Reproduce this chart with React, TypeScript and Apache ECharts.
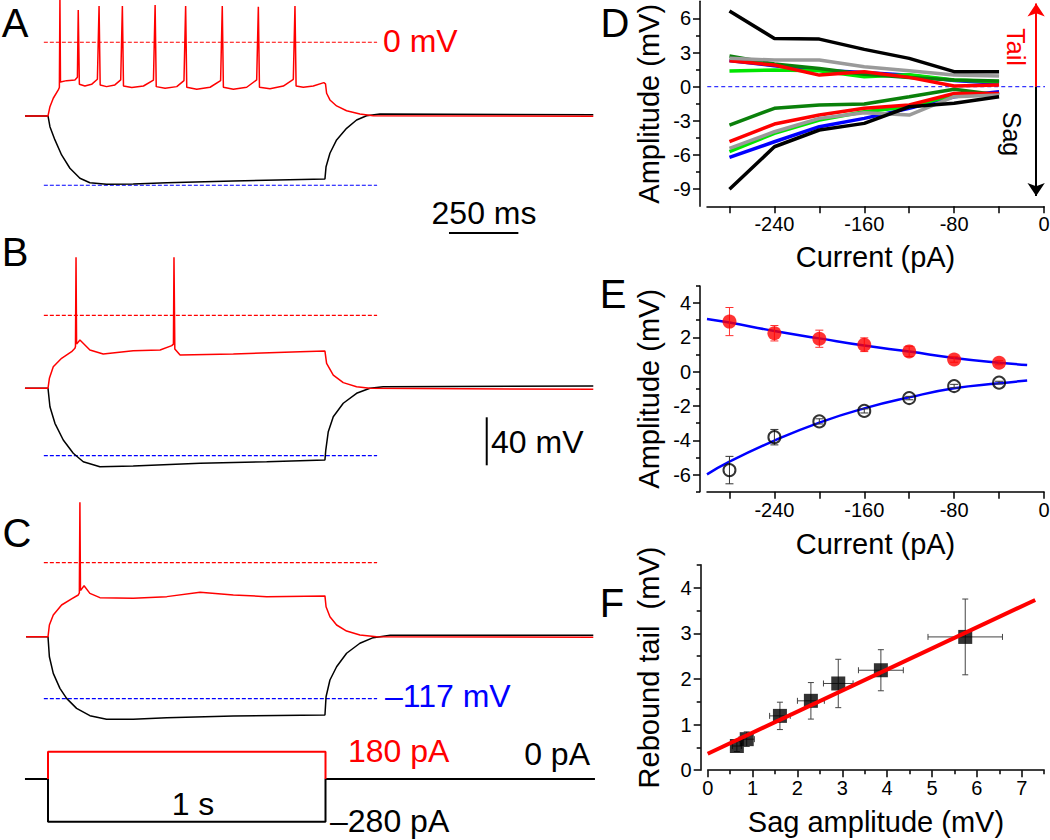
import React, { useEffect, useRef } from "react";
import * as echarts from "echarts";

const FONT = '"Liberation Sans", Arial, Helvetica, sans-serif';

// ---------- Panels A–C: membrane potential traces, [time (ms), Vm (mV)] ----------
const traceARed = [
  [-83, -60.3], [0, -60.3], [7, -52.7], [19, -45.8], [37, -39], [41, -37], [43, 36], [45, -32.5],
  [67, -31.4], [97, -30.8], [106, -28.6], [109, 26.4], [113, -34.4], [133, -35.8], [157, -34.4],
  [178, -30.3], [184, 29.7], [188, -34.9], [211, -36.3], [241, -34.9], [262, -30.8], [268, 29.7],
  [272, -35.8], [302, -37.1], [344, -35.8], [380, -31], [386, 30.5], [390, -36.3], [422, -37.6],
  [464, -36.3], [490, -31.4], [496, 29.7], [500, -36.8], [536, -38.5], [584, -36.8], [622, -31.4],
  [628, 29.7], [632, -36.8], [668, -38.5], [716, -36.8], [752, -30.8], [758, 29.1], [762, -36.8],
  [800, -38], [848, -35.8], [884, -30.3], [890, 29.7], [894, -35.8], [920, -36.8], [956, -35.8],
  [994, -33], [1000, -34], [1004, -41.7], [1016, -47.2], [1040, -52.1], [1076, -56], [1124, -58.7],
  [1172, -60.1], [1965, -60.5],
];
const traceABlack = [
  [-83, -60.3], [0, -60.3], [7, -69.1], [25, -79.9], [49, -92.2], [79, -103.1], [115, -111.3],
  [151, -114.9], [211, -116.2], [307, -115.9], [428, -114.9], [668, -113.5], [998, -111.8],
  [1002, -101.8], [1016, -90.8], [1040, -79.9], [1076, -70.4], [1112, -63.6], [1148, -60.1],
  [1196, -58.7], [1965, -59.3],
];
const traceBRed = [
  [-83, -60.8], [0, -60.8], [5, -52.5], [19, -42.8], [49, -35.8], [85, -30.3], [97, -27.5],
  [99, -26], [101, 48.3], [103, -24], [115, -20.6], [151, -28.9], [199, -32.3], [307, -29.5],
  [404, -28.9], [446, -25.3], [452, -24], [454, 48.3], [457, -28], [476, -33.1], [668, -32.3],
  [908, -30.3], [998, -29.8], [1004, -40], [1028, -49.8], [1064, -56.1], [1112, -59.5],
  [1160, -60.8], [1965, -61.7],
];
const traceBBlack = [
  [-83, -60.8], [0, -60.8], [7, -76.2], [25, -90], [55, -103.9], [91, -115], [127, -122],
  [187, -126.2], [307, -125.6], [548, -123.3], [788, -122], [998, -120.6], [1001, -112.3],
  [1010, -97], [1028, -84.5], [1064, -73.3], [1112, -65], [1160, -60.8], [1208, -59.5],
  [1965, -58.9],
];
const traceCRed = [
  [-79, -63.7], [0, -63.7], [5, -53.6], [19, -45], [49, -36.4], [85, -31.2], [109, -27.8],
  [113, -26], [115, 52], [117, -24], [130, -19.8], [151, -26.4], [187, -30.1], [307, -30.7],
  [428, -29.2], [548, -25.5], [668, -27.8], [788, -29.2], [998, -28.6], [1002, -37.9],
  [1016, -46.5], [1040, -53.6], [1076, -58.8], [1124, -62.2], [1184, -63.7], [1965, -64.2],
];
const traceCBlack = [
  [-79, -63.7], [0, -63.7], [5, -80.9], [19, -95.2], [43, -108.1], [67, -116.7], [103, -125.3],
  [151, -131.6], [211, -134.7], [307, -134.6], [428, -133.3], [668, -131.9], [998, -131],
  [1002, -115.3], [1016, -100.9], [1040, -89.5], [1076, -77.9], [1124, -69.3], [1172, -64.5],
  [1233, -62.5], [1965, -62.5],
];
const refLevels = [0, -117]; // mV: red dashed (0 mV), blue dashed (-117 mV)
const refSpan = [-15, 1186]; // ms
const scaleBarTime = [[1445, -156], [1695, -156]]; // 250 ms
const scaleBarVolt = [[1581, -85], [1581, -125]]; // 40 mV

// Current step (pA)
const stepRed = [[0, 0], [0, 180], [1000, 180], [1000, 0]];
const stepBlack = [[-83, 0], [0, 0], [0, -280], [1000, -280], [1000, 0], [1971, 0]];

// ---------- Panel D: individual cells ----------
const currents = [-280, -240, -200, -160, -120, -80, -40];
const dTailBlack = [6.64, 4.24, 4.18, 3.28, 2.49, 1.32, 1.32];
const dTailGray = [2.49, 2.34, 2.34, 1.76, 1.4, 1.02, 0.94];
const dTailDarkGreen = [2.69, 2.0, 1.6, 1.1, 0.8, 0.6, 0.5];
const dTailRed = [2.28, 1.9, 1.02, 1.32, 0.82, 0.06, 0.15];
const dTailBlue = [2.3, 1.85, 1.45, 1.25, 1.0, 0.55, 0.3];
const dTailLightGreen = [1.38, 1.46, 1.4, 0.88, 1.05, 0.59, 0.44];
const dSagBlack = [-9.01, -5.27, -3.8, -3.22, -1.76, -1.46, -0.88];
const dSagBlue = [-6.2, -4.83, -3.51, -2.78, -1.9, -0.88, -0.44];
const dSagLightGreen = [-5.7, -4.1, -2.93, -2.19, -1.76, -0.73, -0.64];
const dSagGray = [-5.41, -3.95, -2.78, -2.28, -2.49, -0.88, -0.73];
const dSagRed = [-4.83, -3.28, -2.49, -1.9, -1.61, -0.59, -0.59];
const dSagDarkGreen = [-3.37, -1.9, -1.61, -1.52, -0.88, -0.23, -0.73];
const dZeroLine = [[-306, 0], [6, 0]];
const arrowX = -7;
const arrowTailTop = 7.3;
const arrowSagBottom = -9.6;

// ---------- Panel E: mean ± SEM ----------
const tailMean = [2.92, 2.24, 1.92, 1.57, 1.18, 0.71, 0.52];
const tailSem = [0.82, 0.45, 0.5, 0.4, 0.3, 0.16, 0.12];
const sagMean = [-5.74, -3.82, -2.9, -2.29, -1.54, -0.84, -0.64];
const sagSem = [0.8, 0.45, 0.15, 0.12, 0.1, 0.1, 0.08];
const fitCurrents = [-300, -280, -240, -200, -160, -120, -80, -40, -15];
const tailFit = [3.07, 2.86, 2.37, 1.94, 1.52, 1.17, 0.8, 0.52, 0.39];
const sagFit = [-5.99, -5.25, -4.02, -2.97, -2.14, -1.5, -0.97, -0.68, -0.52];

// ---------- Panel F: rebound tail vs sag ----------
const fSagX = [0.65, 0.87, 1.61, 2.3, 2.91, 3.86, 5.74];
const fSagXErr = [0.1, 0.17, 0.23, 0.3, 0.33, 0.5, 0.83];
const fTailY = [0.53, 0.68, 1.19, 1.52, 1.9, 2.19, 2.92];
const fTailYErr = [0.12, 0.16, 0.3, 0.4, 0.53, 0.45, 0.83];
const fFitX = [0, 7.3];
const fFitY = [0.36, 3.73];

const pairs = (xs: number[], ys: number[]) => xs.map((x, i) => [x, ys[i]]);

function errY(color: string, cap: number) {
  return (params: any, api: any) => {
    const x = api.value(0), y = api.value(1), e = api.value(2);
    const lo = api.coord([x, y - e]);
    const hi = api.coord([x, y + e]);
    const st = { stroke: color, lineWidth: 1 };
    return {
      type: "group",
      children: [
        { type: "line", shape: { x1: lo[0], y1: lo[1], x2: hi[0], y2: hi[1] }, style: st },
        { type: "line", shape: { x1: lo[0] - cap, y1: lo[1], x2: lo[0] + cap, y2: lo[1] }, style: st },
        { type: "line", shape: { x1: hi[0] - cap, y1: hi[1], x2: hi[0] + cap, y2: hi[1] }, style: st },
      ],
    };
  };
}
function errXY(color: string, cap: number) {
  return (params: any, api: any) => {
    const x = api.value(0), y = api.value(1), ex = api.value(2), ey = api.value(3);
    const l = api.coord([x - ex, y]), r = api.coord([x + ex, y]);
    const b = api.coord([x, y - ey]), t = api.coord([x, y + ey]);
    const st = { stroke: color, lineWidth: 1 };
    return {
      type: "group",
      children: [
        { type: "line", shape: { x1: l[0], y1: l[1], x2: r[0], y2: r[1] }, style: st },
        { type: "line", shape: { x1: l[0], y1: l[1] - cap, x2: l[0], y2: l[1] + cap }, style: st },
        { type: "line", shape: { x1: r[0], y1: r[1] - cap, x2: r[0], y2: r[1] + cap }, style: st },
        { type: "line", shape: { x1: b[0], y1: b[1], x2: t[0], y2: t[1] }, style: st },
        { type: "line", shape: { x1: b[0] - cap, y1: b[1], x2: b[0] + cap, y2: b[1] }, style: st },
        { type: "line", shape: { x1: t[0] - cap, y1: t[1], x2: t[0] + cap, y2: t[1] }, style: st },
      ],
    };
  };
}

const axisLineStyle = { color: "#000", width: 1.5 };
function majorAxis(gridIndex: number, min: number, max: number, ticks: number[], labels: number[], extra: any) {
  return {
    type: "value", gridIndex, min, max,
    axisLine: { show: true, onZero: false, lineStyle: axisLineStyle },
    axisTick: { show: true, customValues: ticks, length: 7, inside: false, lineStyle: axisLineStyle },
    axisLabel: { show: true, customValues: labels, color: "#000", fontSize: 20, fontFamily: FONT, margin: 9 },
    splitLine: { show: false },
    nameLocation: "middle",
    nameTextStyle: { fontSize: 29, color: "#000", fontFamily: FONT },
    ...extra,
  };
}
function minorAxis(gridIndex: number, min: number, max: number, ticks: number[], extra: any) {
  return {
    type: "value", gridIndex, min, max,
    axisLine: { show: false, onZero: false },
    axisTick: { show: true, customValues: ticks, length: 4, inside: false, lineStyle: axisLineStyle },
    axisLabel: { show: false },
    splitLine: { show: false },
    ...extra,
  };
}

function traceLine(data: number[][], color: string, xi: number, width = 1.5) {
  return {
    type: "line", xAxisIndex: xi, yAxisIndex: xi, data, symbol: "none", showSymbol: false,
    clip: false, lineStyle: { color, width }, z: color === "#ff0000" ? 3 : 2, silent: true,
  };
}
function refLine(level: number, color: string, xi: number) {
  return {
    type: "line", xAxisIndex: xi, yAxisIndex: xi, data: [[refSpan[0], level], [refSpan[1], level]],
    symbol: "none", clip: false, lineStyle: { color, width: 1.2, type: [4, 2] }, z: 1, silent: true,
  };
}
function dLine(ys: number[], color: string) {
  return {
    type: "line", xAxisIndex: 4, yAxisIndex: 4, data: pairs(currents, ys), symbol: "none",
    showSymbol: false, lineStyle: { color, width: 3.5 }, z: 3, silent: true,
  };
}

function txt(text: string, x: number, y: number, size: number, color = "#000", align = "left", rotation = 0) {
  return {
    type: "text", x, y, rotation, silent: true,
    style: { text, fill: color, font: `${size}px ${FONT}`, textAlign: align, textVerticalAlign: "middle" },
  };
}

const traceGrid = (top: number, height: number) => ({
  left: 20.25, width: 582.75, top, height, containLabel: false, outerBoundsMode: "none",
});
const plotGrid = (top: number, height: number, left = 707, width = 337) => ({
  left, width, top, height, containLabel: false, outerBoundsMode: "none",
});

export default function App() {
  const ref = useRef<HTMLDivElement>(null);
  useEffect(() => {
    if (!ref.current) return;
    const chart = echarts.init(ref.current, null, { renderer: "svg" });
    const hiddenT = (g: number) => ({ type: "value", gridIndex: g, min: -100, max: 2000, show: false });
    const hiddenV = (g: number) => ({ type: "value", gridIndex: g, min: -200, max: 30, show: false });
    const option: any = {
      animation: false,
      backgroundColor: "#ffffff",
      textStyle: { fontFamily: FONT },
      grid: [
        traceGrid(5.6, 281.1),
        traceGrid(279.3, 276),
        traceGrid(527.8, 267.4),
        traceGrid(751.7, 70),
        plotGrid(1.3, 205),
        plotGrid(285.9, 205.8),
        plotGrid(564.8, 205.4, 707.7, 336.5),
      ],
      xAxis: [
        hiddenT(0), hiddenT(1), hiddenT(2), hiddenT(3),
        majorAxis(4, -300, 0, [-280, -240, -200, -160, -120, -80, -40, 0], [-240, -160, -80, 0], {
          name: "Current (pA)", nameGap: 36, axisLabel: { customValues: [-240, -160, -80, 0], color: "#000", fontSize: 20, fontFamily: FONT, margin: 8 },
        }),
        majorAxis(5, -300, 0, [-280, -240, -200, -160, -120, -80, -40, 0], [-240, -160, -80, 0], {
          name: "Current (pA)", nameGap: 38, axisLabel: { customValues: [-240, -160, -80, 0], color: "#000", fontSize: 20, fontFamily: FONT, margin: 8 },
        }),
        majorAxis(6, 0, 7.5, [0, 1, 2, 3, 4, 5, 6, 7], [0, 1, 2, 3, 4, 5, 6, 7], {
          name: "Sag amplitude (mV)", nameGap: 37, axisLabel: { customValues: [0, 1, 2, 3, 4, 5, 6, 7], color: "#000", fontSize: 20, fontFamily: FONT, margin: 8 },
        }),
        minorAxis(6, 0, 7.5, [0.5, 1.5, 2.5, 3.5, 4.5, 5.5, 6.5, 7.5], { position: "bottom" }),
      ],
      yAxis: [
        hiddenV(0), hiddenV(1), hiddenV(2),
        { type: "value", gridIndex: 3, min: -280, max: 180, show: false },
        majorAxis(4, -10.5, 7.5, [-9, -6, -3, 0, 3, 6], [-9, -6, -3, 0, 3, 6], {
          name: "Amplitude (mV)", nameGap: 37, offset: 7,
        }),
        minorAxis(4, -10.5, 7.5, [-7.5, -4.5, -1.5, 1.5, 4.5], { offset: 7, position: "left" }),
        majorAxis(5, -7, 5, [-6, -4, -2, 0, 2, 4], [-6, -4, -2, 0, 2, 4], {
          name: "Amplitude (mV)", nameGap: 37, offset: 7,
        }),
        minorAxis(5, -7, 5, [-7, -5, -3, -1, 1, 3, 5], { offset: 7, position: "left" }),
        majorAxis(6, 0, 4.5, [0, 1, 2, 3, 4], [0, 1, 2, 3, 4], {
          name: "Rebound tail  (mV)", nameGap: 37, offset: 7,
        }),
        minorAxis(6, 0, 4.5, [0.5, 1.5, 2.5, 3.5, 4.5], { offset: 7, position: "left" }),
      ],
      series: [
        // A
        refLine(refLevels[0], "#ff0000", 0), refLine(refLevels[1], "#0000ff", 0),
        traceLine(traceABlack, "#000000", 0), traceLine(traceARed, "#ff0000", 0),
        traceLine(scaleBarTime, "#000000", 0, 2),
        // B
        refLine(refLevels[0], "#ff0000", 1), refLine(refLevels[1], "#0000ff", 1),
        traceLine(traceBBlack, "#000000", 1), traceLine(traceBRed, "#ff0000", 1),
        traceLine(scaleBarVolt, "#000000", 1, 2),
        // C
        refLine(refLevels[0], "#ff0000", 2), refLine(refLevels[1], "#0000ff", 2),
        traceLine(traceCBlack, "#000000", 2), traceLine(traceCRed, "#ff0000", 2),
        // step
        traceLine(stepBlack, "#000000", 3, 2), traceLine(stepRed, "#ff0000", 3, 2),
        // D
        {
          type: "line", xAxisIndex: 4, yAxisIndex: 4, data: dZeroLine, symbol: "none", clip: false,
          lineStyle: { color: "#0000ff", width: 1, type: [4, 3] }, z: 1, silent: true,
          markLine: {
            silent: true, symbol: ["none", "arrow"], symbolSize: 13, label: { show: false },
            data: [
              [{ coord: [arrowX, 0], lineStyle: { color: "#ff0000", width: 2, type: "solid" } }, { coord: [arrowX, arrowTailTop] }],
              [{ coord: [arrowX, 0], lineStyle: { color: "#000000", width: 2, type: "solid" } }, { coord: [arrowX, arrowSagBottom] }],
            ],
          },
        },
        dLine(dTailBlue, "#0000ff"), dLine(dSagBlue, "#0000ff"),
        dLine(dTailLightGreen, "#00e600"), dLine(dSagLightGreen, "#00e600"),
        dLine(dTailDarkGreen, "#0a800a"), dLine(dSagDarkGreen, "#0a800a"),
        dLine(dTailRed, "#ff0000"), dLine(dSagRed, "#ff0000"),
        dLine(dTailGray, "#9a9a9a"), dLine(dSagGray, "#9a9a9a"),
        dLine(dTailBlack, "#000000"), dLine(dSagBlack, "#000000"),
        // E
        {
          type: "line", xAxisIndex: 5, yAxisIndex: 6, data: pairs(fitCurrents, tailFit), smooth: true,
          symbol: "none", lineStyle: { color: "#0000ff", width: 2.5 }, z: 1, silent: true,
        },
        {
          type: "line", xAxisIndex: 5, yAxisIndex: 6, data: pairs(fitCurrents, sagFit), smooth: true,
          symbol: "none", lineStyle: { color: "#0000ff", width: 2.5 }, z: 1, silent: true,
        },
        {
          type: "custom", xAxisIndex: 5, yAxisIndex: 6, renderItem: errY("#ff3030", 4), z: 2, silent: true,
          data: currents.map((c, i) => [c, tailMean[i], tailSem[i]]),
        },
        {
          type: "custom", xAxisIndex: 5, yAxisIndex: 6, renderItem: errY("#333333", 4), z: 2, silent: true,
          data: currents.map((c, i) => [c, sagMean[i], sagSem[i]]),
        },
        {
          type: "scatter", xAxisIndex: 5, yAxisIndex: 6, data: pairs(currents, tailMean), symbol: "circle",
          symbolSize: 14, itemStyle: { color: "#ff0000" }, z: 3, silent: true,
        },
        {
          type: "scatter", xAxisIndex: 5, yAxisIndex: 6, data: pairs(currents, sagMean), symbol: "circle",
          symbolSize: 12, itemStyle: { color: "rgba(255,255,255,0)", borderColor: "#000", borderWidth: 2 }, z: 3, silent: true,
        },
        // F
        {
          type: "custom", xAxisIndex: 6, yAxisIndex: 8, renderItem: errXY("#444444", 3), z: 1, silent: true,
          data: fSagX.map((x, i) => [x, fTailY[i], fSagXErr[i], fTailYErr[i]]),
        },
        {
          type: "scatter", xAxisIndex: 6, yAxisIndex: 8, data: pairs(fSagX, fTailY), symbol: "rect",
          symbolSize: 14, itemStyle: { color: "#000" }, z: 2, silent: true,
        },
        {
          type: "line", xAxisIndex: 6, yAxisIndex: 8, data: pairs(fFitX, fFitY), symbol: "none",
          lineStyle: { color: "#ff0000", width: 4 }, z: 3, silent: true,
        },
      ],
      graphic: [
        txt("A", 15, 23, 40, "#000", "center"), txt("B", 15, 252, 40, "#000", "center"), txt("C", 17, 533, 40, "#000", "center"),
        txt("D", 615, 23, 40, "#000", "center"), txt("E", 613, 294, 40, "#000", "center"), txt("F", 612, 603, 40, "#000", "center"),
        txt("0 mV", 383, 41, 32, "#ff0000"),
        txt("250 ms", 484, 213, 32, "#000", "center"),
        txt("40 mV", 491, 442, 32),
        txt("\u2013117 mV", 385, 696, 32, "#0000ff"),
        txt("180 pA", 348, 751, 32, "#ff0000"),
        txt("0 pA", 590, 754, 32, "#000", "right"),
        txt("1 s", 193, 804, 32, "#000", "center"),
        txt("\u2013280 pA", 330, 821, 32),
        txt("Tail", 1016, 47, 25, "#ff0000", "center", -Math.PI / 2),
        txt("Sag", 1012, 134, 25, "#000", "center", -Math.PI / 2),
      ],
    };
    chart.setOption(option);
    return () => chart.dispose();
  }, []);
  return (
    <div
      ref={ref}
      style={{ position: "absolute", left: 0, top: 0, width: 1050, height: 840, background: "#fff" }}
    />
  );
}
